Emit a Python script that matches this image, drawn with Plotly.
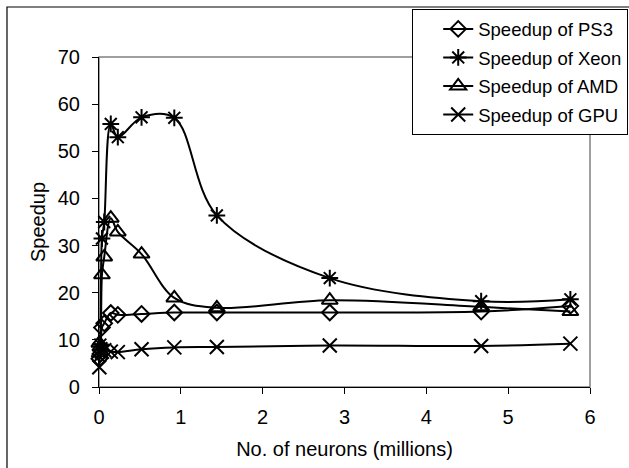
import plotly.graph_objects as go

neurons = [0.004, 0.016, 0.036, 0.064, 0.144, 0.23, 0.52, 0.92, 1.44, 2.82, 4.67, 5.76]
ps3 = [6.0, 7.0, 12.6, 13.5, 15.7, 15.3, 15.5, 15.8, 15.8, 15.8, 16.0, 17.2]
xeon = [6.5, 9.0, 31.5, 35.0, 55.8, 53.0, 57.2, 57.1, 36.4, 23.1, 18.2, 18.6]
amd = [9.3, 8.5, 23.8, 27.6, 35.8, 32.9, 28.2, 18.9, 16.8, 18.4, 17.0, 16.0]
gpu = [4.2, 8.0, 7.5, 7.8, 7.5, 7.4, 8.0, 8.4, 8.5, 8.8, 8.7, 9.2]

series = [
    ("Speedup of PS3", ps3, "diamond-open", 12),
    ("Speedup of Xeon", xeon, "asterisk-open", 14),
    ("Speedup of AMD", amd, "triangle-up-open", 14),
    ("Speedup of GPU", gpu, "x-thin-open", 14),
]

FONT = "Liberation Sans, Arial, sans-serif"

fig = go.Figure()
for i, (name, vals, sym, sz) in enumerate(series):
    fig.add_trace(go.Scatter(
        x=neurons, y=vals, name=name, mode="lines+markers",
        line=dict(color="black", width=2, shape="spline", smoothing=1),
        marker=dict(symbol=sym, size=sz, color="black",
                    line=dict(color="black", width=2)),
        cliponaxis=False, legendgroup=f"g{i}",
    ))

# gray top/right plot border
fig.add_shape(type="rect", xref="paper", yref="paper", x0=0, x1=1, y0=0, y1=1,
              line=dict(color="#808080", width=1.5), layer="below")
# outer chart-area frame (cropped by the image on right/bottom)
fig.add_shape(type="rect", xref="paper", yref="paper",
              x0=-0.1874, x1=1.3, y0=-0.40, y1=1.1515,
              line=dict(color="black", width=1.2), layer="below")

fig.update_layout(
    width=629, height=468,
    margin=dict(l=99, r=39, t=57, b=81, autoexpand=False),
    paper_bgcolor="white", plot_bgcolor="white",
    font=dict(family=FONT, size=20, color="black"),
    showlegend=True,
    legend=dict(
        x=0.6375, y=1.145, xanchor="left", yanchor="top",
        bordercolor="black", borderwidth=1.2, bgcolor="white",
        font=dict(family=FONT, size=18.5, color="black"),
        tracegroupgap=1.5, indentation=25,
    ),
    xaxis=dict(
        range=[0, 6], tickvals=[0, 1, 2, 3, 4, 5, 6],
        showgrid=False, zeroline=False, showline=True, linecolor="black", linewidth=1.2,
        ticks="outside", ticklen=6, tickcolor="black", tickwidth=1.2,
        ticklabelstandoff=6,
        title=dict(text="No. of neurons (millions)", standoff=14,
                   font=dict(family=FONT, size=20)),
        tickfont=dict(family=FONT, size=20),
    ),
    yaxis=dict(
        range=[0, 70], tickvals=[0, 10, 20, 30, 40, 50, 60, 70],
        showgrid=False, zeroline=False, showline=True, linecolor="black", linewidth=1.2,
        ticks="outside", ticklen=6, tickcolor="black", tickwidth=1.2,
        ticklabelstandoff=8,
        title=dict(text="Speedup", standoff=6, font=dict(family=FONT, size=20)),
        tickfont=dict(family=FONT, size=20),
    ),
)

fig.write_html("out.html")
